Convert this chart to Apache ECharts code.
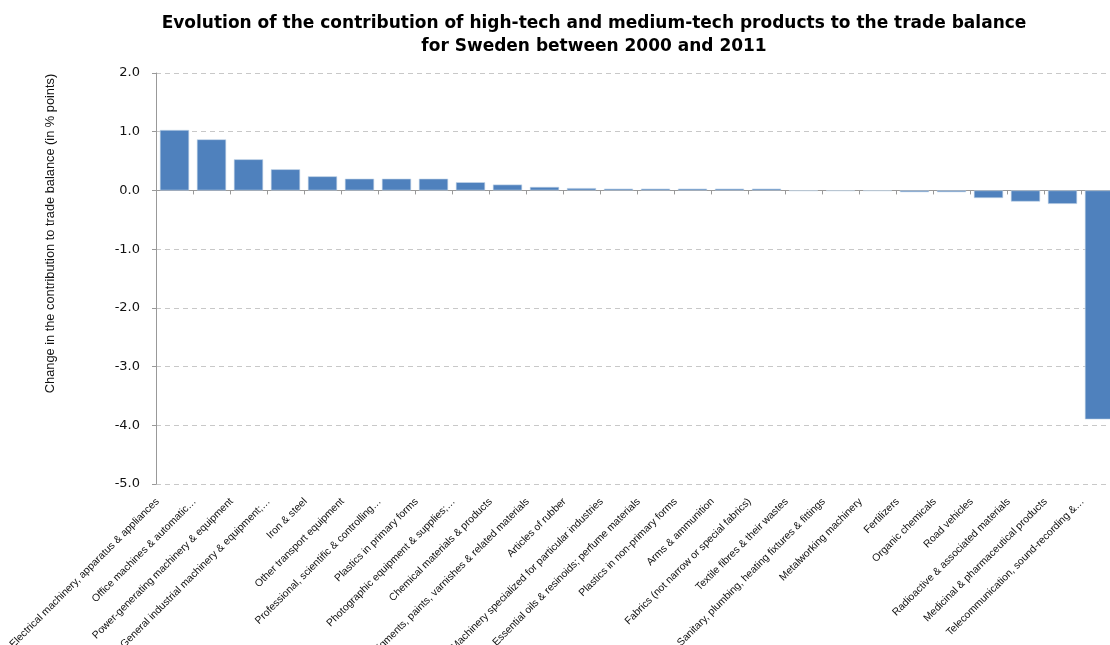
<!DOCTYPE html>
<html>
<head>
<meta charset="utf-8">
<script src="https://cdn.jsdelivr.net/npm/echarts@6/dist/echarts.min.js"></script>
<style>
  html, body { margin: 0; padding: 0; background: #fff; }
</style>
</head>
<body>
<!-- chart container -->
<div id="container" style="width: 1110px;height:645px;"></div>
<script>
  var categories = [
    'Electrical machinery, apparatus & appliances',
    'Office machines & automatic…',
    'Power-generating machinery & equipment',
    'General industrial machinery & equipment;…',
    'Iron & steel',
    'Other transport equipment',
    'Professional, scientific & controlling…',
    'Plastics in primary forms',
    'Photographic equipment & supplies;…',
    'Chemical materials & products',
    'Pigments, paints, varnishes & related materials',
    'Articles of rubber',
    'Machinery specialized for particular industries',
    'Essential oils & resinoids; perfume materials',
    'Plastics in non-primary forms',
    'Arms & ammunition',
    'Fabrics (not narrow or special fabrics)',
    'Textile fibres & their wastes',
    'Sanitary, plumbing, heating fixtures & fittings',
    'Metalworking machinery',
    'Fertilizers',
    'Organic chemicals',
    'Road vehicles',
    'Radioactive & associated materials',
    'Medicinal & pharmaceutical products',
    'Telecommunication, sound-recording &…'
  ];
  var values = [
    1.03, 0.87, 0.53, 0.36, 0.24, 0.20, 0.20, 0.20, 0.14, 0.10, 0.06, 0.04, 0.03,
    0.03, 0.03, 0.03, 0.03, -0.01, -0.01, -0.01, -0.03, -0.03, -0.13, -0.19, -0.23, -3.90
  ];
  var yMin = -5, yMax = 2, yStep = 1;

  var myChart = echarts.init(document.getElementById('container'));
  myChart.setOption({
    animation: false,
    title: {
      text: 'Evolution of the contribution of high-tech and medium-tech products to the trade balance\nfor Sweden between 2000 and 2011',
      left: 589,
      top: 7,
      textAlign: 'center',
      textStyle: {
        fontFamily: 'DejaVu Sans',
        fontWeight: 'bold',
        fontSize: 17,
        lineHeight: 23,
        color: '#000'
      }
    },
    // keep the plot where it is, labels may run off the page like in the original
    grid: {left: 156, right: -8, top: 73, bottom: 161, containLabel: false, outerBoundsMode: 'none'},
    xAxis: [
      {
        // labels along the bottom
        type: 'category',
        data: categories,
        position: 'bottom',
        axisLine: {show: false, onZero: false},
        axisTick: {show: false},
        axisLabel: {
          interval: 0,
          rotate: 45,
          margin: -1,
          padding: [0, 24, 0, 0],
          fontFamily: 'Liberation Sans',
          fontSize: 10.4,
          color: '#111'
        }
      },
      {
        // the zero line with its ticks
        type: 'category',
        data: categories,
        position: 'bottom',
        axisLine: {show: true, onZero: true, lineStyle: {color: '#999', width: 1}},
        axisTick: {show: true, interval: 0, length: 4, lineStyle: {color: '#999'}},
        axisLabel: {show: false, interval: 0}
      }
    ],
    yAxis: {
      type: 'value',
      min: yMin,
      max: yMax,
      interval: yStep,
      name: 'Change in the contribution to trade balance (in % points)',
      nameLocation: 'middle',
      nameGap: 99,
      nameTextStyle: {
        fontFamily: 'Liberation Sans',
        fontSize: 12.8,
        color: '#111',
        padding: [0, 0, 0, 90]
      },
      axisLine: {show: true, lineStyle: {color: '#999'}},
      axisTick: {show: true, length: 4, lineStyle: {color: '#999'}},
      axisLabel: {
        margin: 16,
        fontFamily: 'DejaVu Sans',
        fontSize: 13,
        color: '#111',
        formatter: function (v) { return v.toFixed(1); }
      },
      splitLine: {lineStyle: {color: '#c8c8c8', type: [5, 4]}}
    },
    series: [
      {
        type: 'bar',
        xAxisIndex: 0,
        data: values,
        barCategoryGap: '21%',
        itemStyle: {color: '#4f81bd', borderColor: '#c6d6ea', borderWidth: 0.6}
      }
    ]
  });
</script>
</body>
</html>
